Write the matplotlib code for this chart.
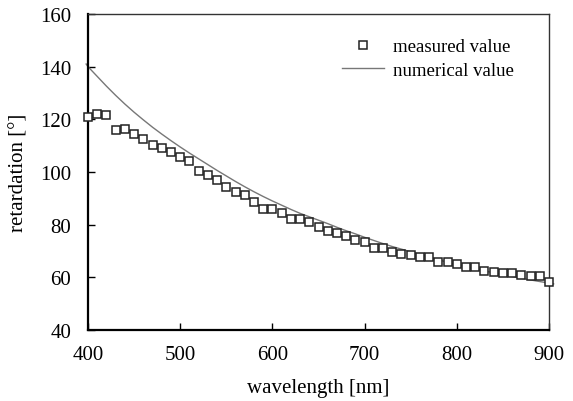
import matplotlib
matplotlib.use("Agg")
import matplotlib.pyplot as plt

wl_meas = list(range(400, 901, 10))
meas = [120.8, 122.0, 121.6, 116.0, 116.4, 114.5, 112.5, 110.4, 109.1, 107.5,
        105.6, 104.0, 100.2, 99.0, 97.0, 94.2, 92.5, 91.3, 88.5, 86.0,
        86.0, 84.4, 82.2, 82.0, 80.9, 79.2, 77.7, 76.7, 75.8, 74.2,
        73.5, 71.0, 71.0, 69.5, 68.9, 68.5, 67.8, 67.6, 65.7, 65.7,
        65.0, 63.8, 63.8, 62.5, 61.9, 61.6, 61.8, 60.9, 60.6, 60.6, 58.3]

wl_num = [398, 400, 410, 420, 430, 440, 450, 460, 470, 480, 490, 500, 510, 520, 530,
          540, 550, 560, 570, 580, 590, 600, 610, 620, 630, 640, 650, 660, 670,
          680, 690, 700, 710, 720, 730, 740, 750, 760, 770, 780, 790, 800, 820,
          840, 860, 880, 900, 905]
num = [141.0, 140.0, 136.3, 132.6, 129.1, 125.8, 122.7, 119.8, 117.0, 114.4, 111.9,
       109.5, 107.2, 105.0, 102.8, 100.6, 98.5, 96.4, 94.4, 92.5, 90.7,
       89.0, 87.4, 85.8, 84.3, 83.0, 81.7, 80.4, 79.0, 77.7, 76.5,
       75.2, 74.0, 72.8, 71.7, 70.7, 69.7, 68.7, 67.7, 66.7, 65.7,
       64.7, 63.2, 61.7, 60.3, 59.0, 57.8, 57.5]

plt.rcParams['font.family'] = ['Liberation Serif', 'DejaVu Serif']

fig = plt.figure(figsize=(5.73, 4.02), dpi=100)
ax = fig.add_axes([88/573, 1-331/402, (549-88)/573, (331-15)/402])

ax.plot(wl_num, num, color='#777777', lw=1.0, label='numerical value', clip_on=False, zorder=2)
ax.plot(wl_meas, meas, linestyle='none', marker='s', markersize=6.0,
        markerfacecolor='white', markeredgecolor='#222222', markeredgewidth=1.1,
        label='measured value', clip_on=False, zorder=3)

ax.set_xlim(400, 900)
ax.set_ylim(40, 160)
ax.set_xticks([400, 500, 600, 700, 800, 900])
ax.set_yticks([40, 60, 80, 100, 120, 140, 160])
ax.tick_params(direction='in', length=5, width=1, labelsize=15,
               top=False, right=False)
ax.tick_params(axis='x', pad=11)
ax.tick_params(axis='y', pad=12)
for s in ['left', 'bottom']:
    ax.spines[s].set_linewidth(1.6)
    ax.spines[s].set_color('black')
for s in ['top', 'right']:
    ax.spines[s].set_linewidth(1.0)
    ax.spines[s].set_color('#333333')

ax.set_xlabel('wavelength [nm]', fontsize=15, labelpad=10)
ax.set_ylabel('retardation [°]', fontsize=15, labelpad=8)

h, l = ax.get_legend_handles_labels()
ax.legend([h[1], h[0]], [l[1], l[0]], loc='upper right', frameon=False,
          fontsize=13.5, bbox_to_anchor=((527-88)/461, 0.965), handlelength=2.2,
          handletextpad=0.5, borderaxespad=0.3, labelspacing=0.35)

fig.savefig('out.png', dpi=100)
